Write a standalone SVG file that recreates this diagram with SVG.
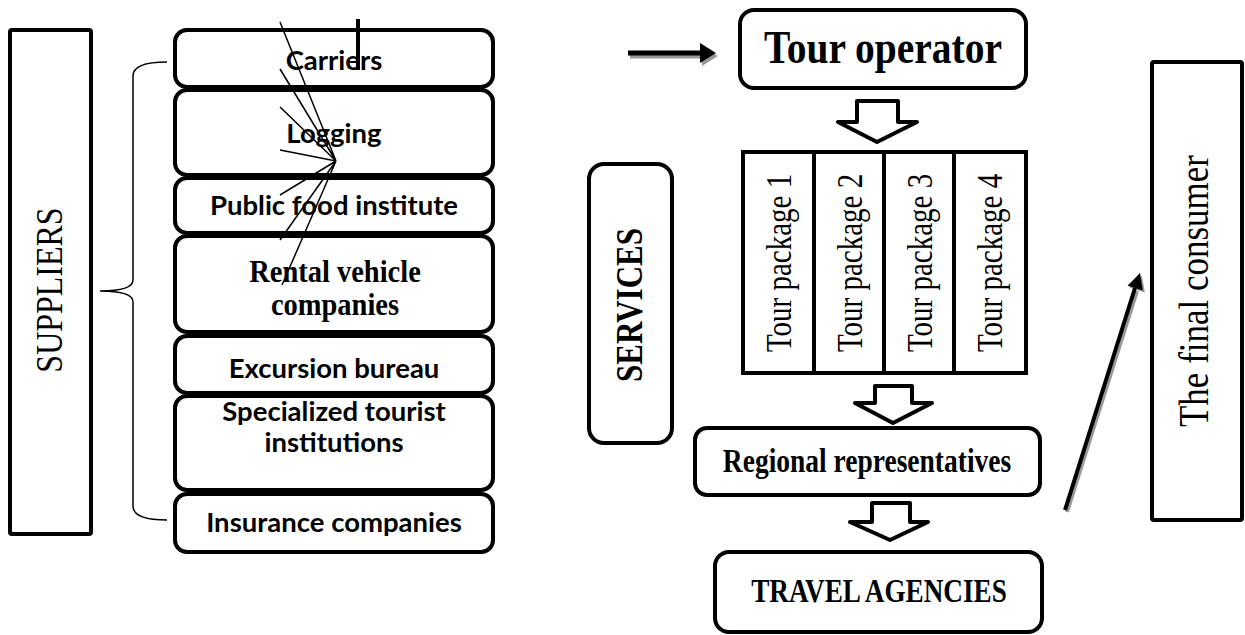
<svg xmlns="http://www.w3.org/2000/svg" width="1245" height="635" viewBox="0 0 1245 635">
<style>
.box{fill:#fff;stroke:#000;stroke-width:4}
.sans{font-family:Lato,"Liberation Sans",sans-serif;font-weight:bold;font-size:27.5px;text-anchor:middle;fill:#000}
.serif{font-family:"Liberation Serif","Times New Roman",serif;text-anchor:middle;fill:#000}
.b{font-weight:bold}
.thin{stroke:#000;stroke-width:1.5;fill:none}
.blk{fill:#fff;stroke:#000;stroke-width:4;stroke-linejoin:round}
</style>
<rect width="1245" height="635" fill="#fff"/>

<g id="suppliers">
<rect class="box" x="10" y="30" width="81" height="504" rx="2"/>
<text class="serif" font-size="32" transform="translate(62,290) rotate(-90) scale(1,1.2)">SUPPLIERS</text>
</g>

<g id="carriers">
<rect class="box" x="175" y="30" width="318" height="57" rx="12"/>
<text class="sans" x="334" y="70">Carriers</text>
</g>
<g id="logging">
<rect class="box" x="175" y="90" width="318" height="85" rx="12"/>
<text class="sans" x="334" y="143">Logging</text>
</g>
<g id="public-food">
<rect class="box" x="175" y="178" width="318" height="55" rx="12"/>
<text class="sans" x="334" y="215">Public food institute</text>
</g>
<g id="rental">
<rect class="box" x="175" y="236" width="318" height="96" rx="12"/>
<text class="serif b" font-size="28.5" transform="translate(335,282) scale(1,1.1)">Rental vehicle</text>
<text class="serif b" font-size="28.5" transform="translate(335,315) scale(1,1.1)">companies</text>
</g>
<g id="excursion">
<rect class="box" x="175" y="336" width="318" height="57" rx="12"/>
<text class="sans" x="334" y="378">Excursion bureau</text>
</g>
<g id="specialized">
<rect class="box" x="175" y="396" width="318" height="94" rx="12"/>
<text class="sans" x="334" y="421">Specialized tourist</text>
<text class="sans" x="334" y="452">institutions</text>
</g>
<g id="insurance">
<rect class="box" x="175" y="494" width="318" height="58" rx="12"/>
<text class="sans" x="334" y="532">Insurance companies</text>
</g>

<g id="tour-operator">
<rect class="box" x="740" y="10" width="286" height="78" rx="14"/>
<text class="serif b" font-size="39.5" transform="translate(883,63) scale(1,1.2)">Tour operator</text>
</g>

<g id="tour-packages">
<rect class="box" x="743" y="152" width="283" height="221"/>
<line x1="814" y1="152" x2="814" y2="373" stroke="#000" stroke-width="4"/>
<line x1="884" y1="152" x2="884" y2="373" stroke="#000" stroke-width="4"/>
<line x1="954" y1="152" x2="954" y2="373" stroke="#000" stroke-width="4"/>
<text class="serif" font-size="29" transform="translate(791,263) rotate(-90) scale(1,1.2)">Tour package 1</text>
<text class="serif" font-size="29" transform="translate(862,263) rotate(-90) scale(1,1.2)">Tour package 2</text>
<text class="serif" font-size="29" transform="translate(932,263) rotate(-90) scale(1,1.2)">Tour package 3</text>
<text class="serif" font-size="29" transform="translate(1002,263) rotate(-90) scale(1,1.2)">Tour package 4</text>
</g>

<g id="services">
<rect class="box" x="589" y="164" width="83" height="279" rx="15"/>
<text class="serif b" font-size="31" transform="translate(642,305) rotate(-90) scale(1,1.2)">SERVICES</text>
</g>

<g id="regional">
<rect class="box" x="695" y="428" width="345" height="67" rx="12"/>
<text class="serif b" font-size="27.5" transform="translate(867,472) scale(1,1.2)">Regional representatives</text>
</g>

<g id="travel-agencies">
<rect class="box" x="715" y="552" width="327" height="80" rx="14"/>
<text class="serif b" font-size="27.2" transform="translate(879,602) scale(1,1.2)">TRAVEL AGENCIES</text>
</g>

<g id="final-consumer">
<rect class="box" x="1152" y="62" width="90" height="458" rx="2"/>
<text class="serif" font-size="35" transform="translate(1208,291) rotate(-90) scale(1,1.2)">The final consumer</text>
</g>

<g id="connectors">
<path class="thin" d="M280,22 L336,161 M280,69 L336,161 M280,107 L336,161 M280,150 L336,161 M280,195 L336,161 M280,240 L336,161 M282,285 L336,161"/>
<line x1="358" y1="19" x2="358" y2="70" stroke="#000" stroke-width="4"/>

<line x1="630" y1="56" x2="704" y2="56" stroke="#999" stroke-width="5"/>
<polygon points="702,46 718,56 702,66" fill="#999"/>
<line x1="628" y1="53" x2="702" y2="53" stroke="#000" stroke-width="5"/>
<polygon points="700,43 716,53 700,63" fill="#000"/>

<path class="blk" d="M857,101 L898,101 L898,122 L917,122 L877,142 L838,122 L857,122 Z"/>
<path class="blk" d="M875,386 L912,386 L912,403 L932,403 L893,423 L855,403 L875,403 Z"/>
<path class="blk" d="M872,503 L910,503 L910,522 L928,522 L890,540 L850,522 L872,522 Z"/>

<line x1="1067" y1="512" x2="1137" y2="291" stroke="#999" stroke-width="4"/>
<polygon points="1142,276 1144.8,292.6 1129.6,287.8" fill="#999"/>
<line x1="1065" y1="510" x2="1135" y2="288" stroke="#000" stroke-width="4"/>
<polygon points="1140,273 1142.8,290.6 1127.6,285.8" fill="#000"/>

<path class="thin" d="M167,62 Q133,62 133,76 L133,280 Q133,291 100,291 Q133,291 133,302 L133,506 Q133,520 167,520"/>
</g>
</svg>
